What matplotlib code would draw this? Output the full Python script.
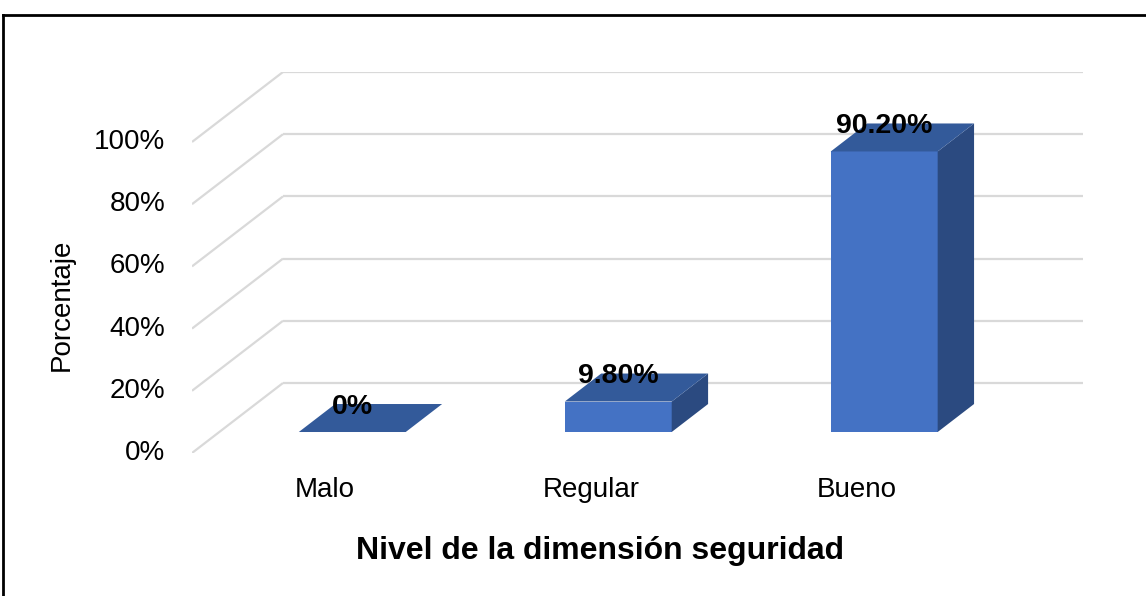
import matplotlib
matplotlib.use("Agg")
import matplotlib.pyplot as plt
from matplotlib.patches import Polygon
from matplotlib.lines import Line2D

categories = ["Malo", "Regular", "Bueno"]
values = [0.0, 9.8, 90.2]
value_labels = ["0%", "9.80%", "90.20%"]
yticks = [0, 20, 40, 60, 80, 100]
ytick_labels = ["0%", "20%", "40%", "60%", "80%", "100%"]

plt.rcParams['font.family'] = ['Liberation Sans', 'DejaVu Sans']

W, H = 1146, 596
fig = plt.figure(figsize=(W / 100, H / 100), dpi=100)
fig.patch.set_facecolor("white")

left_px, right_px, bottom_px, top_px = 192, 1083, 453, 72
ax = fig.add_axes([left_px / W, 1 - bottom_px / H,
                   (right_px - left_px) / W, (bottom_px - top_px) / H])

DX = 0.342   # depth offset in category units
DY = 22.5    # depth offset in percent units
XMIN, XMAX = -0.5, 2.85
ax.set_xlim(XMIN, XMAX)
ax.set_ylim(0, 100 + DY)
ax.axis("off")

grid_c = "#D9D9D9"
for v, tl in zip(yticks, ytick_labels):
    ax.plot([XMIN, XMIN + DX], [v, v + DY], color=grid_c, lw=1.6, zorder=1,
            solid_capstyle="butt")
    ax.plot([XMIN + DX, XMAX], [v + DY, v + DY], color=grid_c, lw=1.6, zorder=1,
            solid_capstyle="butt")
    ax.text(XMIN - 0.1, v, tl, ha="right", va="center", fontsize=20,
            color="black")

front_c = "#4472C4"
top_c = "#335A9A"
side_c = "#2B4A80"

d0, d1 = 0.3, 0.7
bw = 0.402
for i, (v, lab) in enumerate(zip(values, value_labels)):
    x0 = i + d0 * DX - bw / 2
    x1 = i + d0 * DX + bw / 2
    y0 = d0 * DY
    ddx = (d1 - d0) * DX
    ddy = (d1 - d0) * DY
    if v > 0:
        ax.bar(i + d0 * DX, v, bottom=y0, width=bw, color=front_c,
               edgecolor="none", zorder=3)
        side = Polygon([(x1, y0), (x1 + ddx, y0 + ddy),
                        (x1 + ddx, y0 + ddy + v), (x1, y0 + v)],
                       closed=True, facecolor=side_c, edgecolor="none", zorder=3)
        ax.add_patch(side)
    top = Polygon([(x0, y0 + v), (x1, y0 + v), (x1 + ddx, y0 + v + ddy),
                   (x0 + ddx, y0 + v + ddy)], closed=True,
                  facecolor=top_c, edgecolor="none", zorder=4)
    ax.add_patch(top)
    ax.text(i + d0 * DX, v + 14.8, lab, ha="center", va="center",
            fontsize=20.5, fontweight="bold", color="black", zorder=5)
    ax.text(i, -12.0, categories[i], ha="center", va="center", fontsize=20,
            color="black")

fig.text(62 / W, 1 - 305 / H, "Porcentaje", rotation=90, ha="center",
         va="center", fontsize=20)
fig.text(600 / W, 1 - 551 / H, "Nivel de la dimensión seguridad", ha="center",
         va="center", fontsize=23, fontweight="bold")

# outer frame (top and left edges visible)
fig.add_artist(Line2D([3 / W, 1.0], [1 - 15 / H, 1 - 15 / H], color="black",
                      lw=2, transform=fig.transFigure))
fig.add_artist(Line2D([3 / W, 3 / W], [0, 1 - 15 / H], color="black",
                      lw=2, transform=fig.transFigure))

fig.savefig("out.png", dpi=100, facecolor="white")
